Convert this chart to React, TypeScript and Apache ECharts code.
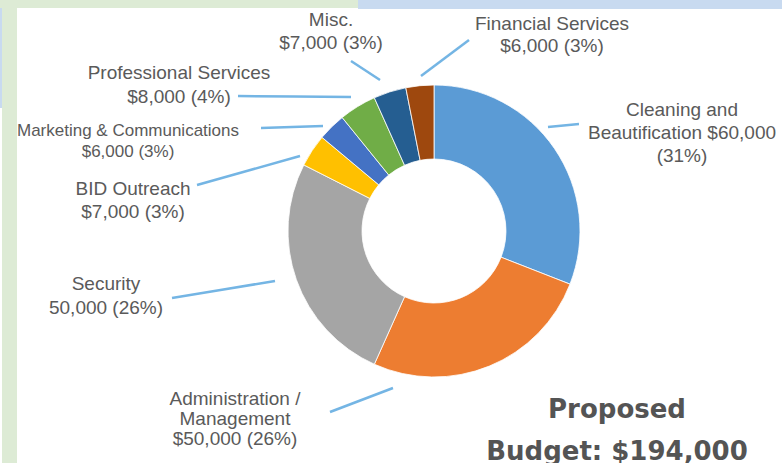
import React, { useEffect, useRef } from "react";
import * as echarts from "echarts";

// ---- Data ----
const categories = [
  "Cleaning and Beautification",
  "Administration / Management",
  "Security",
  "BID Outreach",
  "Marketing & Communications",
  "Professional Services",
  "Misc.",
  "Financial Services",
];
const values = [60000, 50000, 50000, 7000, 6000, 8000, 7000, 6000];
const labelTexts = [
  "Cleaning and\nBeautification $60,000\n(31%)",
  "Administration /\nManagement\n$50,000 (26%)",
  "Security\n50,000 (26%)",
  "BID Outreach\n$7,000 (3%)",
  "Marketing & Communications\n$6,000 (3%)",
  "Professional Services\n$8,000 (4%)",
  "Misc.\n$7,000 (3%)",
  "Financial Services\n$6,000 (3%)",
];
const colors = [
  "#5B9BD5",
  "#ED7D31",
  "#A5A5A5",
  "#FFC000",
  "#4472C4",
  "#70AD47",
  "#255E91",
  "#9E480E",
];
const totalText = "Proposed\nBudget: $194,000";

// ---- Layout (label centres, font sizes, leader line ends) ----
type LL = { x: number; y: number; fontSize: number; lineHeight: number; line: number[][] };
const labelLayouts: LL[] = [
  { x: 682, y: 132, fontSize: 19, lineHeight: 23, line: [[579, 124], [548, 127]] },
  { x: 235, y: 418, fontSize: 19, lineHeight: 20, line: [[330, 412], [393, 388]] },
  { x: 106, y: 295, fontSize: 19, lineHeight: 24, line: [[172, 298], [275, 281]] },
  { x: 133, y: 200, fontSize: 19, lineHeight: 23, line: [[197, 185], [300, 156]] },
  { x: 128, y: 141, fontSize: 17, lineHeight: 21, line: [[261, 128], [323, 126]] },
  { x: 179, y: 84, fontSize: 19, lineHeight: 24, line: [[238, 96], [351, 97]] },
  { x: 331, y: 31, fontSize: 19, lineHeight: 23, line: [[351, 61], [380, 80]] },
  { x: 552, y: 34, fontSize: 19, lineHeight: 22, line: [[469, 40], [421, 76]] },
];

const textColor = "#5a5a5a";
const fontFamily = "'Liberation Sans', Arial, sans-serif";

export default function App() {
  const ref = useRef<HTMLDivElement>(null);

  useEffect(() => {
    if (!ref.current) return;
    const chart = echarts.init(ref.current, null, { renderer: "svg" });
    chart.setOption({
      animation: false,
      backgroundColor: "#ffffff",
      title: {
        text: totalText,
        left: 617,
        top: 388,
        textAlign: "center",
        padding: 0,
        textStyle: {
          fontFamily: "'DejaVu Sans', sans-serif",
          fontSize: 26,
          fontWeight: "bold",
          lineHeight: 42,
          color: "#545454",
        },
      },
      graphic: [
        { type: "rect", silent: true, z: -10, shape: { x: 0, y: 0, width: 358, height: 8 }, style: { fill: "#DDEBD5" } },
        { type: "rect", silent: true, z: -10, shape: { x: 358, y: 0, width: 424, height: 9 }, style: { fill: "#C8DAF0" } },
        { type: "rect", silent: true, z: -10, shape: { x: 2, y: 0, width: 15, height: 463 }, style: { fill: "#DDEBD5" } },
        { type: "rect", silent: true, z: -10, shape: { x: 0, y: 8, width: 2, height: 100 }, style: { fill: "#C8DAF0" } },
      ],
      series: [
        {
          type: "pie",
          center: [434, 231],
          radius: [72, 146],
          startAngle: 90,
          clockwise: true,
          avoidLabelOverlap: false,
          silent: true,
          itemStyle: { borderColor: "#ffffff", borderWidth: 0.8 },
          label: {
            show: true,
            position: "outside",
            color: textColor,
            fontFamily,
            align: "center",
          },
          labelLine: {
            show: true,
            smooth: false,
            lineStyle: { color: "#74B5E4", width: 2.5 },
          },
          labelLayout: (params: any) => {
            const L = labelLayouts[params.dataIndex];
            const [a, b] = L.line;
            return {
              x: L.x,
              y: L.y,
              align: "center",
              verticalAlign: "middle",
              labelLinePoints: [a, [(a[0] + b[0]) / 2, (a[1] + b[1]) / 2], b],
            };
          },
          data: categories.map((name, i) => ({
            name,
            value: values[i],
            itemStyle: { color: colors[i] },
            label: {
              formatter: labelTexts[i],
              fontSize: labelLayouts[i].fontSize,
              lineHeight: labelLayouts[i].lineHeight,
            },
          })),
        },
      ],
    });
    return () => chart.dispose();
  }, []);

  return (
    <div
      ref={ref}
      style={{ position: "fixed", left: 0, top: 0, width: 782, height: 463, background: "#fff" }}
    />
  );
}
